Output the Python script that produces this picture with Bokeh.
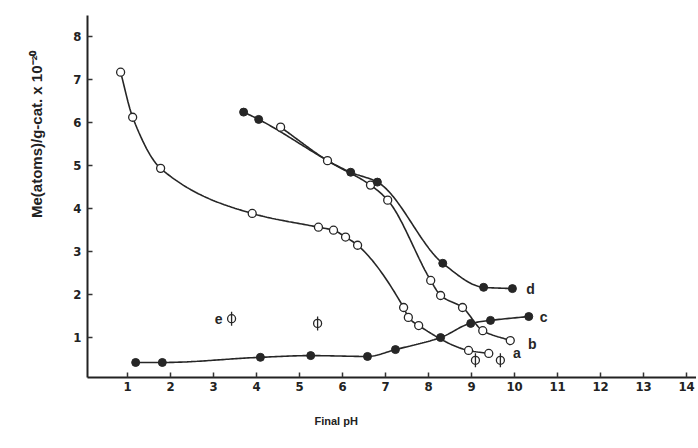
import numpy as np
from bokeh.plotting import figure
from bokeh.models import Range1d, Title, FixedTicker, ColumnDataSource
from bokeh.embed import file_html
from bokeh.resources import INLINE

# ---- data ----
a_x = [0.84, 1.12, 1.77, 3.9, 5.44, 5.79, 6.07, 6.35, 7.42, 7.53, 7.77, 8.93, 9.4]
a_y = [7.18, 6.13, 4.94, 3.89, 3.57, 3.5, 3.34, 3.15, 1.7, 1.47, 1.28, 0.70, 0.63]

b_x = [4.56, 5.65, 6.65, 7.05, 8.05, 8.28, 8.79, 9.26, 9.9]
b_y = [5.9, 5.12, 4.55, 4.2, 2.33, 1.98, 1.7, 1.16, 0.93]

c_x = [1.19, 1.81, 4.09, 5.26, 6.58, 7.23, 8.28, 8.98, 9.44, 10.33]
c_y = [0.42, 0.42, 0.54, 0.58, 0.56, 0.72, 1.0, 1.33, 1.4, 1.49]

d_x = [3.7, 4.05, 6.19, 6.81, 8.33, 9.28, 9.95]
d_y = [6.25, 6.08, 4.85, 4.62, 2.73, 2.17, 2.14]

e_x = [3.42, 5.42, 9.09, 9.67]
e_y = [1.44, 1.33, 0.47, 0.47]

x_ticks = list(range(1, 15))
y_ticks = list(range(1, 9))


def pchip(x, y, n=200):
    x = np.asarray(x, float)
    y = np.asarray(y, float)
    h = np.diff(x)
    delta = np.diff(y) / h
    m = np.zeros_like(y)
    for k in range(1, len(x) - 1):
        if delta[k - 1] * delta[k] <= 0:
            m[k] = 0.0
        else:
            w1 = 2 * h[k] + h[k - 1]
            w2 = h[k] + 2 * h[k - 1]
            m[k] = (w1 + w2) / (w1 / delta[k - 1] + w2 / delta[k])
    m[0] = delta[0]
    m[-1] = delta[-1]
    xs = np.linspace(x[0], x[-1], n)
    idx = np.clip(np.searchsorted(x, xs) - 1, 0, len(x) - 2)
    t = (xs - x[idx]) / h[idx]
    h00 = 2 * t**3 - 3 * t**2 + 1
    h10 = t**3 - 2 * t**2 + t
    h01 = -2 * t**3 + 3 * t**2
    h11 = t**3 - t**2
    ys = h00 * y[idx] + h10 * h[idx] * m[idx] + h01 * y[idx + 1] + h11 * h[idx] * m[idx + 1]
    return xs, ys


p = figure(width=696, height=448,
           x_range=Range1d(0.07, 14.23), y_range=Range1d(0.07, 8.5),
           output_backend="svg", toolbar_location=None,
           min_border_left=87, min_border_right=0,
           min_border_top=15, min_border_bottom=71)
p.outline_line_color = None
p.xgrid.visible = False
p.ygrid.visible = False
p.background_fill_color = "white"

TICK_FONT = "DejaVu Sans Condensed"
for ax in (p.xaxis[0], p.yaxis[0]):
    ax.axis_line_width = 2
    ax.axis_line_color = "#222222"
    ax.major_tick_in = 5
    ax.major_tick_out = 0
    ax.minor_tick_line_color = None
    ax.major_tick_line_width = 1.5
    ax.major_tick_line_color = "#333333"
    ax.major_label_text_font = TICK_FONT
    ax.major_label_text_font_style = "bold"
    ax.major_label_text_font_size = "13px"
    ax.major_label_text_color = "#222222"
p.xaxis.ticker = FixedTicker(ticks=x_ticks)
p.yaxis.ticker = FixedTicker(ticks=y_ticks)
p.xaxis.major_label_standoff = 4
p.yaxis.major_label_standoff = 6

LINE = "#262626"
for xs_, ys_ in ((a_x, a_y), (b_x, b_y), (c_x, c_y), (d_x, d_y)):
    sx, sy = pchip(xs_, ys_)
    p.line(sx, sy, line_color=LINE, line_width=1.6)

# markers
p.scatter(a_x, a_y, marker="circle", size=8, fill_color="white", line_color=LINE, line_width=1.3)
p.scatter(b_x, b_y, marker="circle", size=8, fill_color="white", line_color=LINE, line_width=1.3)
p.scatter(c_x, c_y, marker="circle", size=8, fill_color=LINE, line_color=LINE)
p.scatter(d_x, d_y, marker="circle", size=8, fill_color=LINE, line_color=LINE)
p.scatter(e_x, e_y, marker="circle", size=8, fill_color="white", line_color=LINE, line_width=1.3)
p.scatter(e_x, e_y, marker="dash", size=14, angle=np.pi / 2, line_color=LINE, line_width=1.3)

# curve labels next to series ends
lab_src = ColumnDataSource(dict(
    x=[a_x[-1], b_x[-1], c_x[-1], d_x[-1], e_x[0]],
    y=[a_y[-1], b_y[-1], c_y[-1], d_y[-1], e_y[0]],
    t=["a", "b", "c", "d", "e"],
    xo=[28, 22, 15, 18, -13],
    yo=[0, 3, 0, 0, 0],
))
p.text(x="x", y="y", text="t", x_offset="xo", y_offset="yo", source=lab_src,
       text_font_size="14px", text_font_style="bold", text_color=LINE,
       text_baseline="middle", text_align="center")

# axis titles
p.add_layout(Title(text="Final pH", align="left", offset=227, standoff=38,
                   text_font_size="11px", text_font_style="bold",
                   text_color="#222222"), "below")
p.add_layout(Title(text="Me(atoms)/g-cat. x 10\u207b\u00b2\u2070", align="right",
                   offset=35, standoff=51,
                   text_font_size="15px", text_font_style="bold",
                   text_color="#222222"), "left")

open("out.html", "w").write(file_html(p, INLINE))
